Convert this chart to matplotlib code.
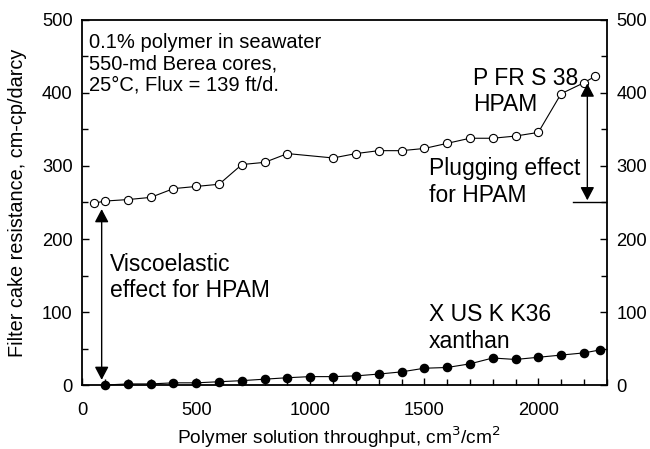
import matplotlib
matplotlib.use("Agg")
import matplotlib.pyplot as plt
from matplotlib.ticker import MultipleLocator
from matplotlib.patches import ArrowStyle

plt.rcParams['font.family'] = ['Liberation Sans', 'DejaVu Sans']

# HPAM (P FR S 38) filter cake resistance
hpam_x = [50, 100, 200, 300, 400, 500, 600, 700, 800, 900, 1100, 1200, 1300,
          1400, 1500, 1600, 1700, 1800, 1900, 2000, 2100, 2200, 2250]
hpam_y = [249, 252, 254, 257, 269, 272, 275, 302, 305, 317, 311, 317, 321,
          321, 324, 331, 338, 338, 341, 346, 399, 414, 423]

# Xanthan (X US K K36) filter cake resistance
xan_x = [100, 200, 300, 400, 500, 600, 700, 800, 900, 1000, 1100, 1200, 1300,
         1400, 1500, 1600, 1700, 1800, 1900, 2000, 2100, 2200, 2270]
xan_y = [0, 1.5, 1.5, 3, 3, 4.5, 6, 8, 10, 11.5, 11.5, 12.5, 15, 18, 23,
         24, 29, 37, 35, 38, 41, 44, 48]

fig = plt.figure(figsize=(6.5, 4.49), dpi=100)
ax = fig.add_axes([0.1266, 0.1425, 0.8068, 0.8130])

ax.plot(hpam_x, hpam_y, color='black', lw=0.8, marker='o', ms=5.9,
        mfc='white', mec='black', mew=0.8, zorder=3)
ax.plot(xan_x, xan_y, color='black', lw=0.8, marker='o', ms=5.9,
        mfc='black', mec='black', zorder=3, clip_on=False)

ax.set_xlim(0, 2300)
ax.set_ylim(0, 500)

ax.xaxis.set_major_locator(MultipleLocator(500))
ax.xaxis.set_minor_locator(MultipleLocator(100))
ax.yaxis.set_major_locator(MultipleLocator(100))
ax.yaxis.set_minor_locator(MultipleLocator(50))

ax.tick_params(which='both', direction='in', top=False, right=True,
               labelright=True, labelsize=13.2, width=1.0, color='black')
ax.tick_params(which='major', length=5)
ax.tick_params(which='minor', length=4)
ax.tick_params(axis='x', pad=12)
ax.tick_params(axis='y', pad=7)

for s in ax.spines.values():
    s.set_linewidth(1.3)

fig.text(339 / 650, 1 - 443.5 / 449,
         'Polymer solution throughput, cm$^3$/cm$^2$',
         ha='center', va='baseline', fontsize=13.8)
fig.text(18 / 650, 1 - 203 / 449,
         'Filter cake resistance, cm-cp/darcy',
         ha='center', va='center', rotation=90, fontsize=14.3)

ax.text(29, 482, '0.1% polymer in seawater\n550-md Berea cores,\n'
        '25°C, Flux = 139 ft/d.', fontsize=14.5, ha='left', va='top',
        linespacing=1.14)

note_kw = dict(fontsize=16.5, ha='left', va='top', linespacing=1.2)
ax.text(1715, 436, 'P FR S 38\nHPAM', **note_kw)
ax.text(1522, 312, 'Plugging effect\nfor HPAM', **note_kw)
ax.text(122, 181, 'Viscoelastic\neffect for HPAM', **note_kw)
ax.text(1519, 112, 'X US K K36\nxanthan', **note_kw)

head = ArrowStyle('<|-|>', head_length=0.57, head_width=0.3)
arrow_kw = dict(arrowstyle=head, color='black', lw=1.0,
                mutation_scale=14, shrinkA=0, shrinkB=0)
ax.annotate('', xy=(85, 241), xytext=(85, 7), arrowprops=arrow_kw)
ax.annotate('', xy=(2215, 413), xytext=(2215, 253), arrowprops=arrow_kw)
ax.plot([2150, 2300], [250, 250], color='black', lw=1.0)

fig.savefig('out.png', dpi=100)
